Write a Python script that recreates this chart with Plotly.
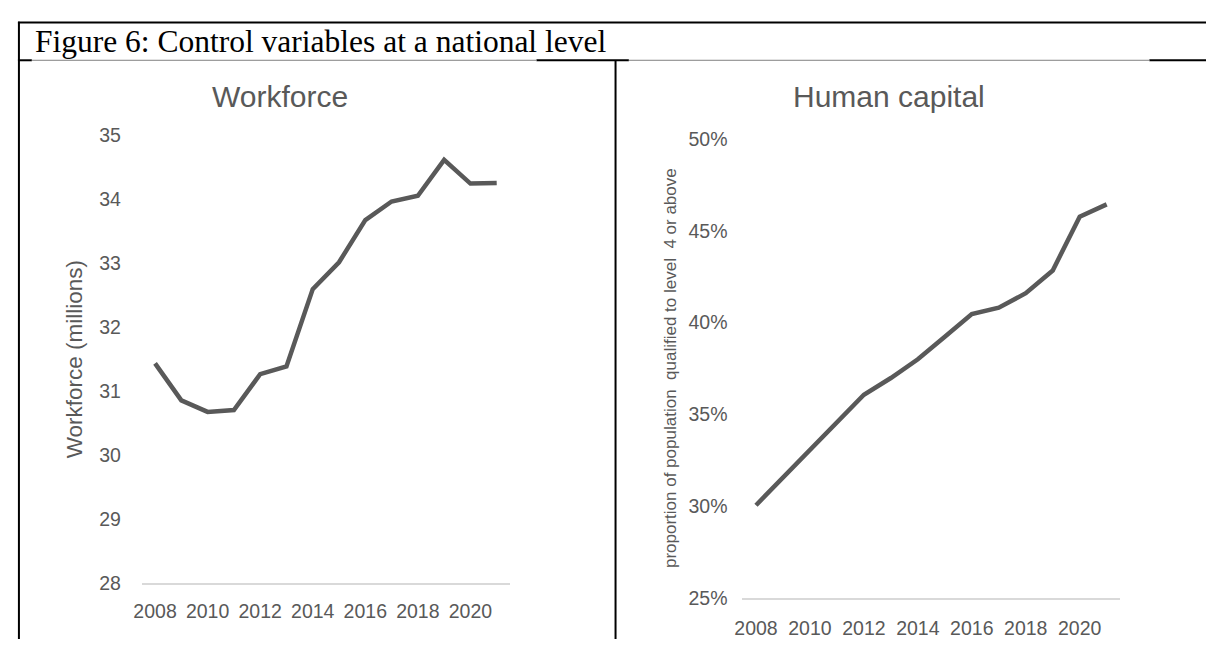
import plotly.graph_objects as go

# ---- data -------------------------------------------------------------
years = list(range(2008, 2022))
year_ticks = [2008, 2010, 2012, 2014, 2016, 2018, 2020]

workforce_millions = [31.44, 30.86, 30.68, 30.71, 31.27, 31.39, 32.60,
                      33.02, 33.68, 33.97, 34.06, 34.62, 34.25, 34.26]
human_capital_pct = [30.05, 31.55, 33.04, 34.57, 36.07, 36.98, 38.00,
                     39.23, 40.46, 40.81, 41.60, 42.84, 45.77, 46.44]

fig_title = "Figure 6: Control variables at a national level"
left_title = "Workforce"
right_title = "Human capital"
left_ytitle = "Workforce (millions)"
right_ytitle = "proportion of population\u00a0 qualified to level\u00a0 4 or above"

# ---- page geometry (pixels) ------------------------------------------
W, H = 1206, 650


def fx(px):
    return px / W


def fy(py):
    return 1 - py / H


GREY_TXT = "#595959"
LINE_CLR = "#595959"
AXIS_CLR = "#D9D9D9"
SANS = "Liberation Sans, Arial, sans-serif"
SERIF = "Liberation Serif, Times New Roman, serif"

fig = go.Figure()

fig.add_trace(go.Scatter(
    x=years, y=workforce_millions, mode="lines",
    line=dict(color=LINE_CLR, width=4.5),
    xaxis="x", yaxis="y", hoverinfo="skip"))

fig.add_trace(go.Scatter(
    x=years, y=human_capital_pct, mode="lines",
    line=dict(color=LINE_CLR, width=4.5),
    xaxis="x2", yaxis="y2", hoverinfo="skip"))

tickfont = dict(family=SANS, size=19.5, color=GREY_TXT)

xcommon = dict(range=[2007.5, 2021.5], tickvals=year_ticks,
               showgrid=False, zeroline=False, showline=True,
               linecolor=AXIS_CLR, linewidth=1.5, ticks="",
               tickfont=tickfont, fixedrange=True)
ycommon = dict(showgrid=False, zeroline=False, showline=False, ticks="",
               tickfont=tickfont, fixedrange=True)

fig.update_layout(
    width=W, height=H,
    margin=dict(l=0, r=0, t=0, b=0),
    paper_bgcolor="white", plot_bgcolor="white",
    showlegend=False,
    xaxis=dict(domain=[fx(134.8), fx(505.2)], anchor="y",
               ticklabelstandoff=10, **xcommon),
    yaxis=dict(domain=[fy(592.4), fy(129)], anchor="x",
               range=[28, 35], dtick=1, ticklabelstandoff=20, **ycommon),
    xaxis2=dict(domain=[fx(739.4), fx(1119.6)], anchor="y2",
                ticklabelstandoff=12, **xcommon),
    yaxis2=dict(domain=[fy(607.5), fy(132.5)], anchor="x2",
                range=[25, 50], dtick=5, ticksuffix="%",
                ticklabelstandoff=14, **ycommon),
)

annotations = [
    dict(text=fig_title, x=fx(25), y=fy(32), xanchor="left", yanchor="middle",
         font=dict(family=SERIF, size=31.5, color="black")),
    dict(text=left_title, x=fx(274), y=fy(88), xanchor="center", yanchor="middle",
         font=dict(family=SANS, size=30, color=GREY_TXT)),
    dict(text=right_title, x=fx(887), y=fy(88), xanchor="center", yanchor="middle",
         font=dict(family=SANS, size=30, color=GREY_TXT)),
    dict(text=left_ytitle, x=fx(67), y=fy(361), textangle=-90,
         xanchor="center", yanchor="middle",
         font=dict(family=SANS, size=22.5, color=GREY_TXT)),
    dict(text=right_ytitle, x=fx(667), y=fy(370), textangle=-90,
         xanchor="center", yanchor="middle",
         font=dict(family=SANS, size=17, color=GREY_TXT)),
]
for a in annotations:
    a.update(xref="paper", yref="paper", showarrow=False)
fig.update_layout(annotations=annotations)

# ---- table rules around the two charts -----------------------------------
def rule(x0, y0, x1, y1, color="black", width=2):
    return dict(type="line", xref="paper", yref="paper",
                x0=fx(x0), y0=fy(y0), x1=fx(x1), y1=fy(y1),
                line=dict(color=color, width=width), layer="above")


shapes = [
    rule(10, 12, W, 12),            # top border
    rule(11, 11, 11, H),            # left border
    rule(611.6, 51, 611.6, H),      # column divider
    # header bottom rule, partly covered by the chart frames
    rule(10, 51, 24, 51),
    rule(532, 51, 625, 51),
    rule(1149, 51, W, 51),
    rule(24, 51, 532, 51, color="#808080", width=1),
    rule(625, 51, 1149, 51, color="#808080", width=1),
]
fig.update_layout(shapes=shapes)

fig.write_html("out.html")
